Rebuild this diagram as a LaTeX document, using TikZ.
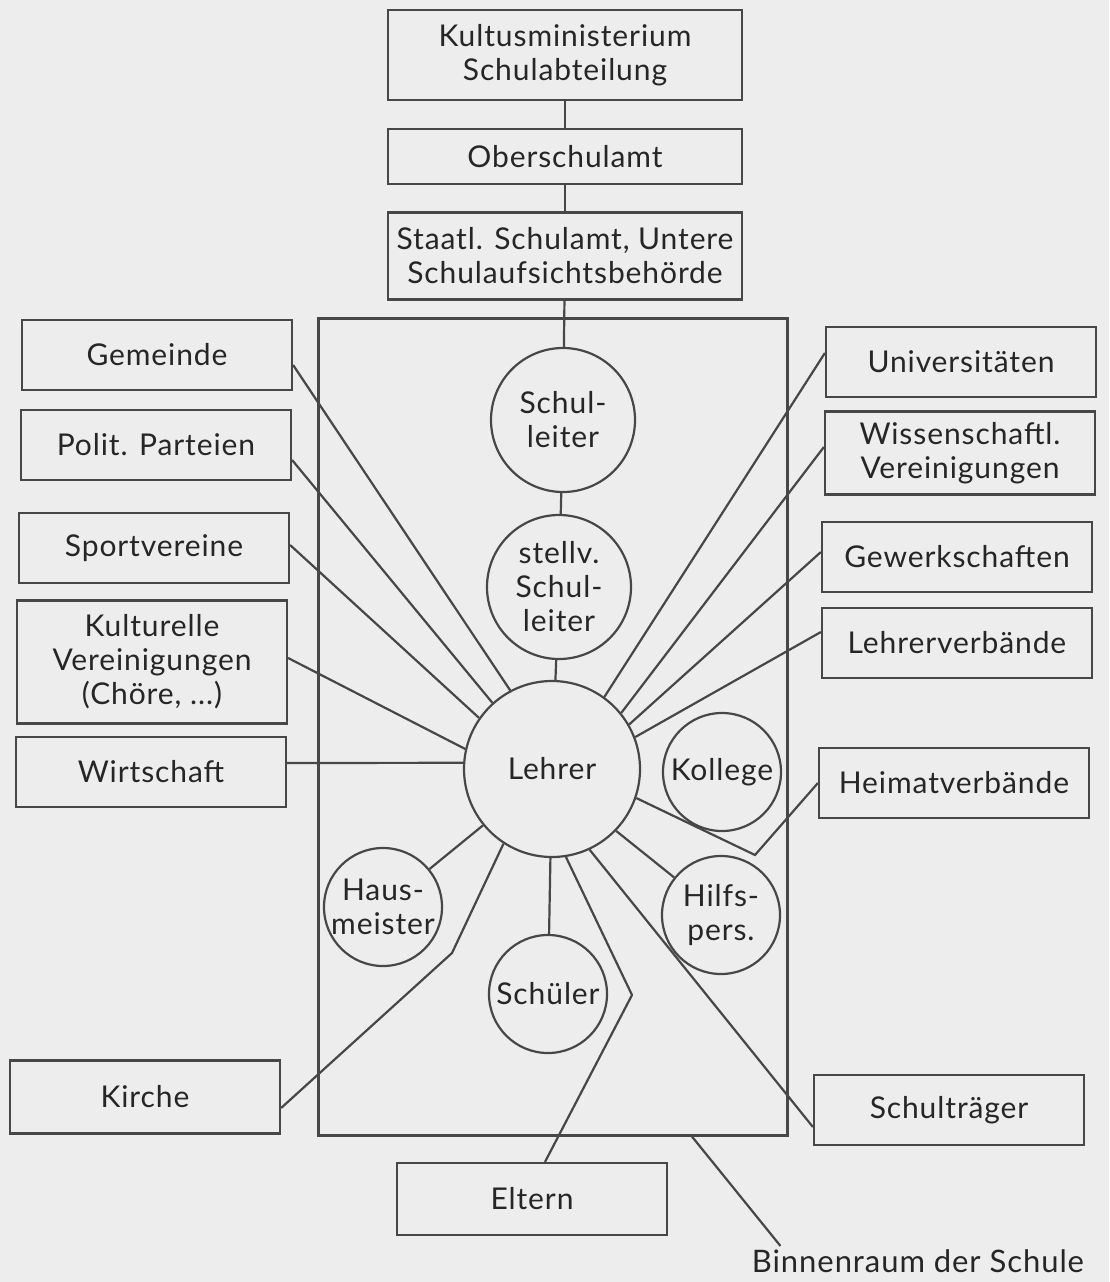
\documentclass[tikz,border=0pt]{standalone}
\usepackage{fontspec}
\setmainfont{Lato}[LetterSpace=3]
\usetikzlibrary{positioning}

\definecolor{linie}{gray}{0.28}
\definecolor{schrift}{gray}{0.15}
\definecolor{papier}{gray}{0.93}

\begin{document}
\begin{tikzpicture}[
		x=1pt, y=-1pt,
		% Rechteckige Kästen (Institutionen)
		kasten/.style={
			draw=linie,
			line width=2.2pt,
			text=schrift,
			font=\fontsize{30}{34}\selectfont,
			align=center,
			inner sep=2pt,
			minimum width=270pt,
			minimum height=#1,
		},
		kasten/.default=70pt,
		% Kreise (Personen im Binnenraum)
		kreis/.style={
			circle,
			draw=linie,
			line width=2.2pt,
			text=schrift,
			font=\fontsize{30}{34}\selectfont,
			align=center,
			inner sep=0pt,
			minimum size=#1,
		},
		kreis/.default=118pt,
		% Verbindungslinien
		verbindung/.style={
			draw=linie,
			line width=2.2pt
		}
		]
		% --- HINTERGRUND ---
		\fill[papier] (0,0) rectangle (1109,1282);
		\useasboundingbox (0,0) rectangle (1109,1282);
		
		% --- SCHULVERWALTUNG OBEN ---
		\node[kasten=90pt, minimum width=354pt] (kultus) at (565,55) {Kultusministerium\\Schulabteilung};
		
		\node[kasten=55pt, minimum width=354pt, below=27pt of kultus] (ober) {Oberschulamt};
		
		\node[kasten=87pt, minimum width=354pt, below=26pt of ober] (staatl) {Staatl. Schulamt, Untere\\Schulaufsichtsbehörde};
		
		% --- BINNENRAUM DER SCHULE ---
		\node[draw=linie, line width=2.2pt, minimum width=469pt, minimum height=817pt] (binnen) at (553,727) {};
		
		\node[kreis=144pt] (sl) at (563,420) {Schul-\\leiter};
		\node[kreis=144pt] (stv) at (559,587) {stellv.\\Schul-\\leiter};
		\node[kreis=176pt] (lehrer) at (552,769) {Lehrer};
		\node[kreis] (kollege) at (722,772) {Kollege};
		\node[kreis] (hilfs) at (721,915) {Hilfs-\\pers.};
		\node[kreis] (haus) at (383,907) {Haus-\\meister};
		\node[kreis] (schueler) at (548,994) {Schüler};
		
		% --- KÄSTEN LINKS ---
		\node[kasten] (gemeinde) at (157,355) {Gemeinde};
		\node[kasten] (polit) at (156,445) {Polit. Parteien};
		\node[kasten] (sport) at (154,548) {Sportvereine};
		\node[kasten=123pt] (kultur) at (152,662) {Kulturelle\\Vereinigungen\\(Chöre, ...)};
		\node[kasten] (wirtschaft) at (151,772) {Wirtschaft};
		\node[kasten=73pt] (kirche) at (145,1097) {Kirche};
		
		% --- KÄSTEN RECHTS ---
		\node[kasten] (uni) at (961,362) {Universitäten};
		\node[kasten=83pt] (wiss) at (960,453) {Wissenschaftl.\\Vereinigungen};
		\node[kasten] (gewerk) at (957,557) {Gewerkschaften};
		\node[kasten] (lverb) at (957,643) {Lehrerverbände};
		\node[kasten] (heimat) at (954,783) {Heimatverbände};
		\node[kasten] (traeger) at (949,1110) {Schulträger};
		
		% --- UNTEN ---
		\node[kasten=72pt] (eltern) at (532,1199) {Eltern};
		\node[text=schrift, font=\fontsize{31}{34}\selectfont] (binnenlabel) at (918,1261) {Binnenraum der Schule};
		
		% Knickpunkte
		\coordinate (knickKirche) at (452,953);
		\coordinate (knickEltern) at (632,995);
		\coordinate (knickHeimat) at (755,855);
		
		% --- LINIEN ---
		
		% Hierarchie oben
		\draw[verbindung] (kultus) -- (ober);
		\draw[verbindung] (ober) -- (staatl);
		\draw[verbindung] (staatl) -- (sl);
		\draw[verbindung] (sl) -- (stv);
		\draw[verbindung] (stv) -- (lehrer);
		
		% Links -> Lehrer
		\draw[verbindung] ([yshift=-10pt]gemeinde.east) -- (lehrer.118);
		\draw[verbindung] ([yshift=-15pt]polit.east) -- (lehrer.132);
		\draw[verbindung] ([yshift=3pt]sport.east) -- (lehrer.145);
		\draw[verbindung] ([yshift=4pt]kultur.east) -- (lehrer.167);
		\draw[verbindung] ([yshift=9pt]wirtschaft.east) -- (lehrer.176);
		\draw[verbindung] ([yshift=-11pt]kirche.east) -- (knickKirche) -- (lehrer.237);
		
		% Rechts -> Lehrer
		\draw[verbindung] ([yshift=9pt]uni.west) -- (lehrer.54);
		\draw[verbindung] ([yshift=6pt]wiss.west) -- (lehrer.39);
		\draw[verbindung] ([yshift=5pt]gewerk.west) -- (lehrer.30);
		\draw[verbindung] ([yshift=11pt]lverb.west) -- (lehrer.21);
		\draw[verbindung] (heimat.west) -- (knickHeimat) -- (lehrer.-19);
		\draw[verbindung] ([yshift=-17pt]traeger.west) -- (lehrer.-65);
		
		% Binnenraum
		\draw[verbindung] (lehrer) -- (haus);
		\draw[verbindung] (lehrer.-44) -- (hilfs);
		\draw[verbindung] (lehrer) -- (schueler);
		\draw[verbindung] ([xshift=13pt]eltern.north) -- (knickEltern) -- (lehrer.-81);
		
		% Beschriftung Binnenraum
		\draw[verbindung] ([xshift=139pt]binnen.south) -- ([xshift=32pt]binnenlabel.north west);
		
	\end{tikzpicture}
\end{document}
